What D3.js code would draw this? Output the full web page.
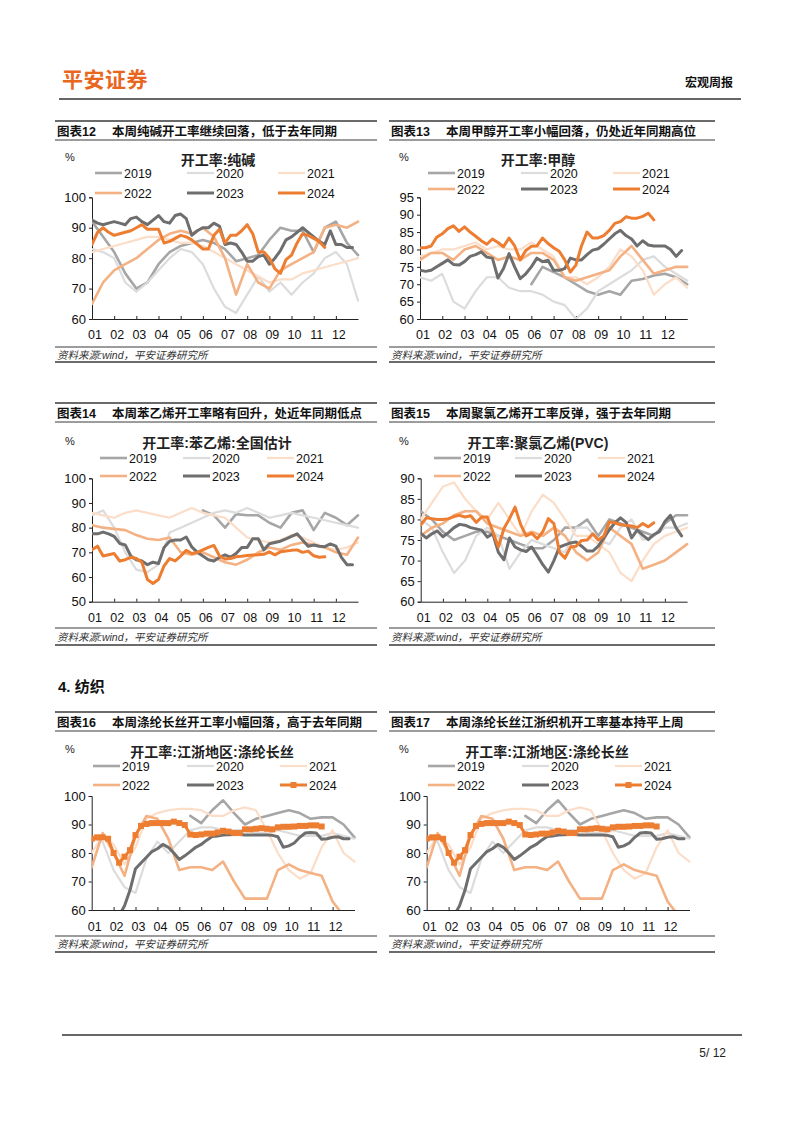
<!DOCTYPE html>
<html><head><meta charset="utf-8">
<script src="https://cdn.jsdelivr.net/npm/d3@7"></script>
<style>
html,body{margin:0;padding:0;background:#fff;}
svg{display:block;}
text{font-family:"Liberation Sans","Noto Sans CJK SC",sans-serif;}
</style></head>
<body>
<script>
// ---------- labels ----------
const monthLabels = ['01','02','03','04','05','06','07','08','09','10','11','12'];
const years = ['2019','2020','2021','2022','2023','2024'];
// step (months) between consecutive values of each year's array
const yearStep = [0.5, 0.5, 0.5, 0.5, 0.25, 0.25];

// ---------- 图表12 纯碱 ----------
const soda2019 = [92,87,82,75,70,72,78,82,84,85,86,85,83,79,80,81,86,90,89,89,82,90,92,85,81];
const soda2020 = [83,82,80,72,69,72,76,80,83,82,78,70,64,62,68,74,69,72,68,72,75,80,82,78,66];
const soda2021 = [82,83,84,85,86,87,87,86,85,85,84,82,80,78,76,74,72,73,73,75,76,77,78,79,80];
const soda2022 = [65,72,76,78,80,83,86,88,89,88,90,87,80,68,78,72,70,76,78,80,82,90,91,90,92];
const soda2023 = [92.5,91.5,91,91.5,92,91.5,91,93,93.5,92,91,92.5,94,92,91.5,94,94.5,93,87.5,89,90,90,91.5,90.5,84.5,85,84.5,82,79,79,80.5,81,78,80,82.5,86,87,88.5,90,88.5,87,85.5,84.5,89,84.5,84.5,83.5,83.5];
const soda2024 = [84.5,88.5,90,88.5,87.5,88,88.5,89,90,91,89.5,89.5,89.5,85,85.5,86.5,87.5,87,86,84.5,83,83,87.5,89.5,85,87.5,87.5,89,91,88,82,82,80,76.5,75,79.5,81,85,88,87.5,86.5,85.5,83.5];

// ---------- 图表13 甲醇 ----------
const meth2019 = [null,null,null,null,null,null,null,null,null,null,70,75,73.5,72,70,68,67,68,67,71,71.5,72.5,73,72,70];
const meth2020 = [72,71,73,65,63,68,72,72,69,68,68,67,65,64,60,63,68,70,72,74,77,78,75,73,71];
const meth2021 = [78,79,80,80,81,82,80,81,80,80,82,80,78,72,72,70,72,75,80,78,74,67,70,72,69];
const meth2022 = [77,79,79,77,80,81,79,77,78,77,79,79,77,72,71,72,73,74,78,81,77,73,74,75,75];
const meth2023 = [74,73.7,74,75,76,77,75.7,75.5,76.5,78,78.5,79.3,77.8,77.5,71.8,74.5,78.8,75,71.6,73,75,77.5,76.5,76.9,74,74,74.5,77.5,77,77,78.5,79.8,80.2,81.5,83,84.5,85.5,84,83,81,82.5,81.3,81,81,81,80,78,79.7];
const meth2024 = [80.5,80.5,81,83.5,84.5,86,86.8,85.2,86.5,85,83.8,82.5,81.5,83,82,80.8,83.3,81,77,79.7,80.9,81,83.3,81.7,80.5,79.5,77,73.5,75.5,81,85,83.3,83.3,84,85.5,87.5,88,89.4,89,89,89.5,90.4,88.5];

// ---------- 图表14 苯乙烯 ----------
const sty2019 = [null,null,null,null,null,null,null,null,null,null,87,85,80,85.5,85,85,82,80,86,87,79,86,84,81,85];
const sty2020 = [85,87,80,70,63,62,65,78,80,82,84,86,87,86,88,86,84,85,86,85,84,83,82,81,80];
const sty2021 = [86,85,84,86,87,86,85,84,86,88,86,85,84,80,76,75,74,75,77,76,74,72,71,72,74];
const sty2022 = [81,80,79.5,79,77,75.5,75,76,70,69,70,68,66,65,67,70,72,71,73,74,73,72,70,69,76];
const sty2023 = [77.5,77.5,78.2,77.5,76.5,73.6,73,68.5,67,66.5,65,66,65.5,72,74.5,75,75,76.2,72.2,70,68.5,67,66.5,68,69,68,69.5,72,72,75.5,75.5,71,73.5,74,74.5,75.5,76.5,77.5,75,72.5,73,72.5,72.3,73.4,72.5,68,65,65];
const sty2024 = [71,72.5,68.5,69,69.5,66.5,67,68,67.5,66,59,57.4,59,64.5,67.5,66.5,68.5,70.8,69.5,70,71,72,72.8,68.5,67.3,67.5,68.2,68.4,68.7,68.9,69,69.2,70.2,69,70.2,70.5,70.8,71,70,70.5,68.6,68,68.2];

// ---------- 图表15 聚氯乙烯 ----------
const pvc2019 = [82,80,77,75,76,77,77,76,75,74,73,73,75,78,78,80,76,80,79,78,77,76,79,81,81];
const pvc2020 = [80,78,72,67,70,76,78,76,68,72,75,74,73,72,78,78,75,74,78,80,75,76,78,78,79];
const pvc2021 = [80,84,88,89,85,82,80,84,80,76,82,86,84,80,76,76,74,72,67,65,70,74,76,77,78];
const pvc2022 = [76,78,79,81,82,82,79,78,77,76,77,76,78,76,72,70,72,78,76,74,68,69,70,72,74];
const pvc2023 = [76.6,75.5,76.5,77.2,75.8,76.8,78,78.8,78.6,78,77.7,77.4,75.7,76.5,72,70.2,75.5,73.3,72.6,72.2,73.3,71.2,69,67.2,70,73.3,73.8,74.3,74.5,73.5,72.3,72.3,73.5,75.5,77.5,79.2,80.4,79.3,75.5,77.4,76.2,75.1,76.3,77,79.5,81,78,76];
const pvc2024 = [78.6,80.4,80.2,80,80,80.2,80.7,81,80.6,80.9,79.3,80.6,80.6,77,73.3,77.8,80.2,83,78.8,76,76.6,75.3,77,80.2,79,72,70.6,73.3,73.5,74.9,75,76.5,75,76,79.4,79.2,78.7,78.5,78.4,78,79,78.2,79.2];

// ---------- 图表16/17 涤纶长丝 ----------
const poly2019 = [null,null,null,null,null,null,null,null,null,93,90.5,95,98.5,94,90,92,93,94,95,94,92,92.5,92.5,90,85.5];
const poly2020 = [85,84,74,68,66,78,84,80,84,88,89,89,88,88,88,87,87,88,87,86,86,86,87,86,85];
const poly2021 = [80,86,83,76,82,92,94,95,95.5,95.5,95,93,93,95,96,95,88,80,74,71,73,82,88,80,77];
const poly2022 = [75,87,80,72,86,93,92,85,74,75,75,74,77,70,64,64,64,74,76,74,73,72,63,58,55];
const poly2023 = [null,null,null,null,null,58,61.5,67,74.5,76.5,78.5,80.5,81.5,83,82,80,77.7,79,80.5,82,83,84.5,85.8,86,86.3,86.4,86.5,86.5,86.3,86.3,86.3,86.3,86.3,86.2,85.7,82,82.5,83.5,85.5,87,87.2,87,84.8,85,85.5,85.7,85,85];
const poly2024 = [85,85.5,85.5,85,80,76.6,78.7,81,86.3,89.5,90.2,90.5,90.5,90.5,90.5,91,90.5,89.8,86.5,86.3,86.5,86.8,86.8,87.2,87.8,87.5,87,87,88.3,88.3,88.5,88.7,88.5,88.3,89,89.2,89.2,89.3,89.5,89.5,89.7,89.7,89.3];

// ---------- styles ----------
const yearColor = ['#A6A6A6','#DCDCDC','#FBDDC8','#F4B183','#6E6E6E','#ED7D31'];
const yearWidth = [2.6, 2.2, 2.2, 2.6, 3, 3];
const ORANGE = '#E8661E';

const W = 802, H = 1133;
const svg = d3.select('body').append('svg').attr('width', W).attr('height', H);

// header
svg.append('text').attr('x', 62).attr('y', 87).attr('font-size', 21).attr('font-weight', 'bold')
  .attr('fill', ORANGE).attr('letter-spacing', 0.5).text('平安证券');
svg.append('text').attr('x', 733).attr('y', 86.5).attr('font-size', 12).attr('font-weight', 'bold')
  .attr('text-anchor', 'end').attr('fill', '#111').text('宏观周报');
svg.append('line').attr('x1', 59).attr('x2', 741).attr('y1', 99).attr('y2', 99)
  .attr('stroke', '#333').attr('stroke-width', 1.3);
// section heading
svg.append('text').attr('x', 58).attr('y', 692).attr('font-size', 15).attr('font-weight', 'bold')
  .attr('fill', '#111').text('4. 纺织');
// footer
svg.append('line').attr('x1', 62).attr('x2', 742).attr('y1', 1035).attr('y2', 1035)
  .attr('stroke', '#333').attr('stroke-width', 1.3);
svg.append('text').attr('x', 726).attr('y', 1056.5).attr('font-size', 12)
  .attr('text-anchor', 'end').attr('fill', '#222').text('5/ 12');

const rows = {
  A: {titleTop:121, titleText:135.5, titleBot:140, pct:161, ctitle:165, leg:[173,193], plotTop:197.3, plotBot:319, xlab:338.5, srcTop:347, srcText:359, bot:362},
  B: {titleTop:403, titleText:417.5, titleBot:422, pct:445, ctitle:447.5, leg:[458,476], plotTop:478.3, plotBot:601.7, xlab:621.5, srcTop:628, srcText:641, bot:645},
  C: {titleTop:712, titleText:726.5, titleBot:731, pct:753, ctitle:756.5, leg:[766,785], plotTop:796, plotBot:910, xlab:931, srcTop:936, srcText:947.5, bot:952}
};
const panelL = [55, 377], panelR = [389, 715];

const charts = [
  {row:'A', panel:panelL, no:'图表12', title:'本周纯碱开工率继续回落，低于去年同期', ctitle:'开工率:纯碱', cx:218,
   x0:92, mw:22.17, dom:[60,100], ticks:[60,70,80,90,100], legX:[95,187,278], legY:[173,193],
   data:[soda2019,soda2020,soda2021,soda2022,soda2023,soda2024], markers:false},
  {row:'A', panel:panelR, no:'图表13', title:'本周甲醇开工率小幅回落，仍处近年同期高位', ctitle:'开工率:甲醇', cx:538,
   x0:420, mw:22.27, dom:[60,95], ticks:[60,65,70,75,80,85,90,95], legX:[428,521,613], legY:[173,189],
   data:[meth2019,meth2020,meth2021,meth2022,meth2023,meth2024], markers:false},
  {row:'B', panel:panelL, no:'图表14', title:'本周苯乙烯开工率略有回升，处近年同期低点', ctitle:'开工率:苯乙烯:全国估计', cx:217,
   x0:92, mw:22.17, dom:[50,100], ticks:[50,60,70,80,90,100], legX:[100,183,267], legY:[458,476],
   data:[sty2019,sty2020,sty2021,sty2022,sty2023,sty2024], markers:false},
  {row:'B', panel:panelR, no:'图表15', title:'本周聚氯乙烯开工率反弹，强于去年同期', ctitle:'开工率:聚氯乙烯(PVC)', cx:538,
   x0:420.7, mw:22.2, dom:[60,90], ticks:[60,65,70,75,80,85,90], legX:[434,515,598], legY:[458,476],
   data:[pvc2019,pvc2020,pvc2021,pvc2022,pvc2023,pvc2024], markers:false},
  {row:'C', panel:panelL, no:'图表16', title:'本周涤纶长丝开工率小幅回落，高于去年同期', ctitle:'开工率:江浙地区:涤纶长丝', cx:212,
   x0:91.7, mw:21.9, dom:[60,100], ticks:[60,70,80,90,100], legX:[93,187,280], legY:[766,785],
   data:[poly2019,poly2020,poly2021,poly2022,poly2023,poly2024], markers:true},
  {row:'C', panel:panelR, no:'图表17', title:'本周涤纶长丝江浙织机开工率基本持平上周', ctitle:'开工率:江浙地区:涤纶长丝', cx:547,
   x0:426.7, mw:21.9, dom:[60,100], ticks:[60,70,80,90,100], legX:[428,522,615], legY:[766,785],
   data:[poly2019,poly2020,poly2021,poly2022,poly2023,poly2024], markers:true}
];

charts.forEach((c, ci) => {
  const r = rows[c.row];
  const g = svg.append('g');
  const [p0, p1] = c.panel;
  const hl = (y, w) => g.append('line').attr('x1', p0).attr('x2', p1).attr('y1', y).attr('y2', y)
      .attr('stroke', '#3a3a3a').attr('stroke-width', w);
  hl(r.titleTop, 1.6); hl(r.titleBot, 1.2); hl(r.srcTop, 1.2); hl(r.bot, 1.6);
  g.append('text').attr('x', p0 + 2).attr('y', r.titleText).attr('font-size', 12.5).attr('font-weight', 'bold')
    .attr('fill', '#111').text(c.no);
  g.append('text').attr('x', p0 + 57).attr('y', r.titleText).attr('font-size', 12.5).attr('font-weight', 'bold')
    .attr('fill', '#111').text(c.title);
  g.append('text').attr('x', p0 + 2).attr('y', r.srcText).attr('font-size', 10.5).attr('font-style', 'italic')
    .attr('fill', '#333').text('资料来源:wind，平安证券研究所');

  // chart inner texts
  g.append('text').attr('x', p0 + 10).attr('y', r.pct).attr('font-size', 11).attr('fill', '#222').text('%');
  g.append('text').attr('x', c.cx).attr('y', r.ctitle).attr('font-size', 14).attr('font-weight', 'bold')
    .attr('text-anchor', 'middle').attr('fill', '#222').text(c.ctitle);

  // scales
  const x = d3.scaleLinear().domain([0, 12]).range([c.x0, c.x0 + 12 * c.mw]);
  const y = d3.scaleLinear().domain(c.dom).range([r.plotBot, r.plotTop]);

  // axes
  const yAxis = g.append('g').attr('transform', `translate(${c.x0},0)`)
    .call(d3.axisLeft(y).tickValues(c.ticks).tickSize(3).tickPadding(3).tickFormat(d3.format('d')));
  yAxis.select('.domain').attr('stroke', '#222');
  yAxis.selectAll('.tick line').attr('stroke', '#222');
  yAxis.selectAll('.tick text').attr('font-size', 13).attr('fill', '#111')
    .attr('font-family', '"Liberation Sans",sans-serif');

  const xAxis = g.append('g').attr('transform', `translate(0,${r.plotBot})`)
    .call(d3.axisBottom(x).tickValues(d3.range(1, 12)).tickSizeInner(-3).tickSizeOuter(0).tickFormat(''));
  xAxis.select('.domain').attr('stroke', '#222');
  xAxis.selectAll('.tick line').attr('stroke', '#222');
  g.append('g').selectAll('text').data(monthLabels).join('text')
    .attr('x', (d, i) => x(i) + 3).attr('y', r.xlab).attr('font-size', 12.5).attr('text-anchor', 'middle')
    .attr('fill', '#111').text(d => d);

  // clip
  const clipId = 'clip' + ci;
  svg.append('clipPath').attr('id', clipId).append('rect')
    .attr('x', c.x0).attr('y', r.plotTop - 2).attr('width', 12 * c.mw + 4).attr('height', r.plotBot - r.plotTop + 2);

  const lines = g.append('g').attr('clip-path', `url(#${clipId})`);
  c.data.forEach((vals, k) => {
    const step = yearStep[k];
    const pts = vals.map((v, i) => ({m: i * step, v}));
    const line = d3.line().defined(d => d.v != null).x(d => x(d.m)).y(d => y(d.v));
    lines.append('path').datum(pts).attr('d', line).attr('fill', 'none')
      .attr('stroke', yearColor[k]).attr('stroke-width', yearWidth[k])
      .attr('stroke-linejoin', 'round').attr('stroke-linecap', 'round');
    if (c.markers && k === 5) {
      lines.selectAll('rect.mk').data(pts.filter(d => d.v != null)).join('rect').attr('class', 'mk')
        .attr('x', d => x(d.m) - 3).attr('y', d => y(d.v) - 3).attr('width', 6).attr('height', 6)
        .attr('fill', yearColor[5]);
    }
  });

  // legend
  years.forEach((yr, k) => {
    const lx = c.legX[k % 3], ly = c.legY[Math.floor(k / 3)];
    g.append('line').attr('x1', lx).attr('x2', lx + 27).attr('y1', ly).attr('y2', ly)
      .attr('stroke', yearColor[k]).attr('stroke-width', yearWidth[k]);
    if (c.markers && k === 5) {
      g.append('rect').attr('x', lx + 10.5).attr('y', ly - 3).attr('width', 6).attr('height', 6).attr('fill', yearColor[5]);
    }
    g.append('text').attr('x', lx + 29).attr('y', ly + 4.5).attr('font-size', 12.5).attr('fill', '#111').text(yr);
  });
});
</script>
</body></html>
